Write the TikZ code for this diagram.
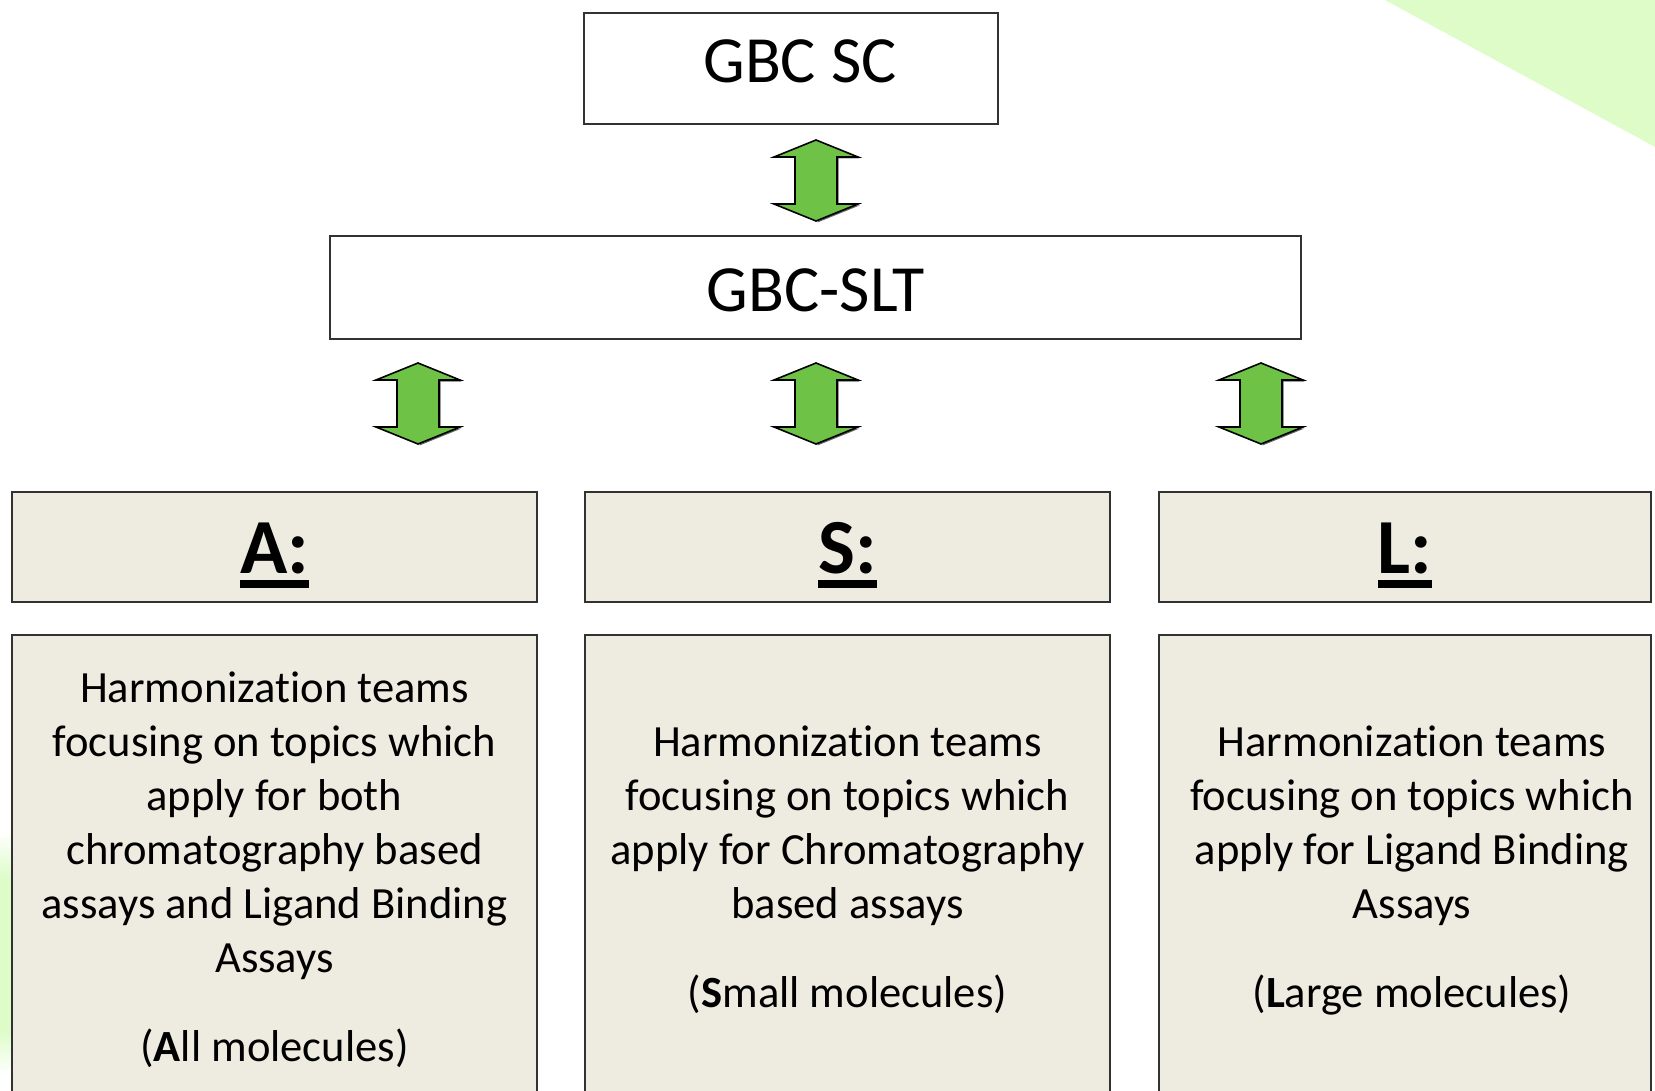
\documentclass[tikz,border=0pt]{standalone}
\usepackage{fontspec}
\setmainfont{Carlito}[RawFeature={-liga}]
\definecolor{boxfill}{RGB}{238,236,225}
\definecolor{boxline}{RGB}{50,50,50}
\definecolor{arrgreen}{RGB}{110,195,70}
\definecolor{bggreen}{RGB}{221,252,200}
\newcommand\hdul[1]{\setbox0\hbox{#1}\rlap{\rule[-15pt]{\wd0}{8pt}}\box0}
\tikzset{
  plainbox/.style={draw=boxline, line width=2pt, fill=white, inner sep=0pt},
  tanbox/.style={draw=boxline, line width=2pt, fill=boxfill, inner sep=0pt},
  titletext/.style={anchor=base, inner sep=0pt, font=\fontsize{66}{80}\selectfont},
  headtext/.style={anchor=base, inner sep=0pt, font=\fontsize{78}{90}\selectfont\bfseries},
  bodytext/.style={anchor=base, inner sep=0pt},
  dblarr/.pic={
    \fill[black!60] (1.5,1.5) -- (43.5,18.5) -- (22.5,18.5) -- (22.5,65.5) -- (43.5,65.5) -- (1.5,82.5) -- cycle;
    \draw[fill=arrgreen, draw=black, line width=1.6pt, line join=miter]
      (0,0) -- (42,17) -- (21,17) -- (21,64) -- (42,64) -- (0,81)
      -- (-42,64) -- (-21,64) -- (-21,17) -- (-42,17) -- cycle;
  }
}
\newcommand\bodyfont{\fontsize{44.6}{54}\selectfont}
\begin{document}
\begin{tikzpicture}[x=1pt, y=-1pt]
\useasboundingbox (0,0) rectangle (1655,1091);
% background decorations
\fill[bggreen] (1385,0) -- (1655,0) -- (1655,147) -- cycle;
\shade[top color=white, bottom color=bggreen] (0,830) rectangle (11,880);
\fill[bggreen] (0,880) rectangle (11,1030);
\shade[top color=bggreen, bottom color=white] (0,1030) rectangle (11,1075);
% top boxes
\node[plainbox, minimum width=414pt, minimum height=111pt] (sc) at (791,68.5) {};
\node[titletext] (sctext) at (800,83) {GBC SC};
\node[plainbox, minimum width=971pt, minimum height=103pt] (slt) at (815.5,287.5) {};
\node[titletext] (slttext) at (816,312) {GBC-SLT};
% header boxes
\node[tanbox, minimum width=525pt, minimum height=110pt] (hA) at (274.5,547) {};
\node[tanbox, minimum width=525pt, minimum height=110pt] (hS) at (847.5,547) {};
\node[tanbox, minimum width=492pt, minimum height=110pt] (hL) at (1405,547) {};
\node[headtext] (hAt) at (hA.center |- 0,573) {\hdul{A:}};
\node[headtext] (hSt) at (hS.center |- 0,573) {\hdul{S:}};
\node[headtext] (hLt) at (hL.center |- 0,573) {\hdul{L:}};
% body boxes
\node[tanbox, minimum width=525pt, minimum height=466pt] (bA) at (274.5,868) {};
\node[tanbox, minimum width=525pt, minimum height=466pt] (bS) at (847.5,868) {};
\node[tanbox, minimum width=492pt, minimum height=466pt] (bL) at (1405,868) {};
\node[bodytext] (bAt) at (bA.center |- 0,702) {\parbox[t]{520pt}{\centering\bodyfont
  Harmonization teams\\
  focusing on topics which\\
  apply for both\\
  chromatography based\\
  assays and Ligand Binding\\
  Assays\\[35pt]
  (\textbf{A}ll molecules)}};
\node[bodytext] (bSt) at (bS.center |- 0,756) {\parbox[t]{520pt}{\centering\bodyfont
  Harmonization teams\\
  focusing on topics which\\
  apply for Chromatography\\
  based assays\\[35pt]
  (\textbf{S}mall molecules)}};
\node[bodytext] (bLt) at (1412,756) {\parbox[t]{490pt}{\centering\bodyfont
  Harmonization teams\\
  focusing on topics which\\
  apply for Ligand Binding\\
  Assays\\[35pt]
  (\textbf{L}arge molecules)}};
% block arrows
\coordinate (a0) at (816,140);
\coordinate (a1) at (418,363);
\coordinate (a2) at (816,363);
\coordinate (a3) at (1261,363);
\pic at (a0) {dblarr};
\pic at (a1) {dblarr};
\pic at (a2) {dblarr};
\pic at (a3) {dblarr};
\end{tikzpicture}
\end{document}
